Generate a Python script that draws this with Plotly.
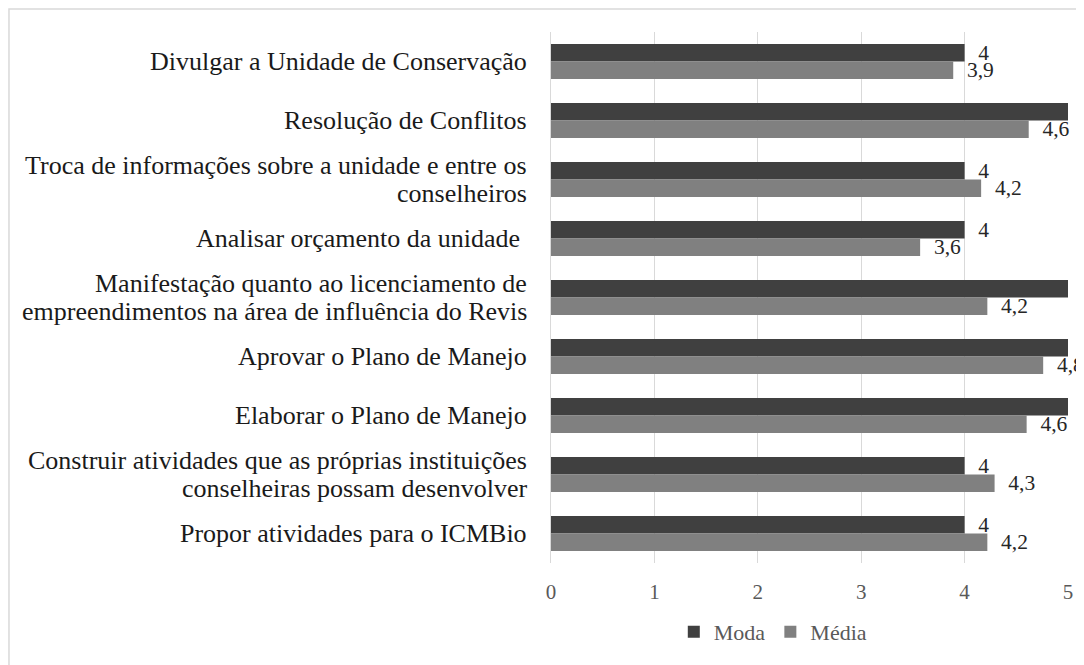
import plotly.graph_objects as go

categories = [
    "Divulgar a Unidade de Conservação",
    "Resolução de Conflitos",
    "Troca de informações sobre a unidade e entre os<br>conselheiros",
    "Analisar orçamento da unidade ",
    "Manifestação quanto ao licenciamento de<br>empreendimentos na área de influência do Revis",
    "Aprovar o Plano de Manejo",
    "Elaborar o Plano de Manejo",
    "Construir atividades que as próprias instituições<br>conselheiras possam desenvolver",
    "Propor atividades para o ICMBio",
]
moda = [4, 5, 4, 4, 5, 5, 5, 4, 4]
media = [3.89, 4.62, 4.16, 3.57, 4.22, 4.76, 4.60, 4.29, 4.22]
moda_labels = ["4", "5", "4", "4", "5", "5", "5", "4", "4"]
media_labels = ["3,9", "4,6", "4,2", "3,6", "4,2", "4,8", "4,6", "4,3", "4,2"]
x_ticks = [0, 1, 2, 3, 4, 5]

FONT = "Liberation Serif"
PAD = "\u00a0\u00a0"

fig = go.Figure()
fig.add_trace(go.Bar(
    y=categories, x=moda, orientation="h", name="Moda",
    marker=dict(color="#404040", line=dict(width=0)),
    text=[PAD + t for t in moda_labels], textposition="outside",
    textfont=dict(family=FONT, size=21.5, color="#262626"),
    constraintext="none", cliponaxis=False,
))
fig.add_trace(go.Bar(
    y=categories, x=media, orientation="h", name="Média",
    marker=dict(color="#808080", line=dict(width=0)),
    text=[PAD + t for t in media_labels], textposition="outside",
    textfont=dict(family=FONT, size=21.5, color="#262626"),
    constraintext="none", cliponaxis=False,
))

annotations = []
LINE = 28
for cat in categories:
    lines = cat.split("<br>")
    n = len(lines)
    for i, ln in enumerate(lines):
        shift = ((n - 1) / 2 - i) * LINE
        annotations.append(dict(
            x=0, xref="paper", y=cat, yref="y", xanchor="right", yanchor="middle",
            xshift=-22, yshift=shift, text=ln, showarrow=False, align="center",
            font=dict(family=FONT, size=26, color="#1a1a1a"),
        ))

fig.update_layout(
    width=1076, height=657,
    margin=dict(l=543, r=16, t=24, b=102),
    paper_bgcolor="white", plot_bgcolor="white",
    barmode="group", bargap=0.41, bargroupgap=0,
    font=dict(family=FONT, color="#595959"),
    xaxis=dict(range=[0, 5], tickvals=x_ticks, showgrid=True, gridcolor="#d9d9d9",
               gridwidth=1, zeroline=False, showline=False, ticks="",
               tickfont=dict(family=FONT, size=21, color="#595959"),
               ticklabelstandoff=14, fixedrange=True),
    yaxis=dict(autorange="reversed", showticklabels=False, showgrid=False,
               showline=True, linecolor="#d9d9d9", linewidth=1, ticks="",
               zeroline=False),
    legend=dict(orientation="h", x=0.429, xanchor="center", y=-0.13, yanchor="middle",
                font=dict(family=FONT, size=22, color="#595959"),
                traceorder="normal", itemclick=False),
    showlegend=True,
    annotations=annotations,
    shapes=[dict(type="rect", xref="paper", yref="paper",
                 x0=-1.0484, x1=1.2, y0=-0.3, y1=1.0433,
                 line=dict(color="#d9d9d9", width=1.5), fillcolor="rgba(0,0,0,0)",
                 layer="below")],
)

fig.write_html("out.html")
